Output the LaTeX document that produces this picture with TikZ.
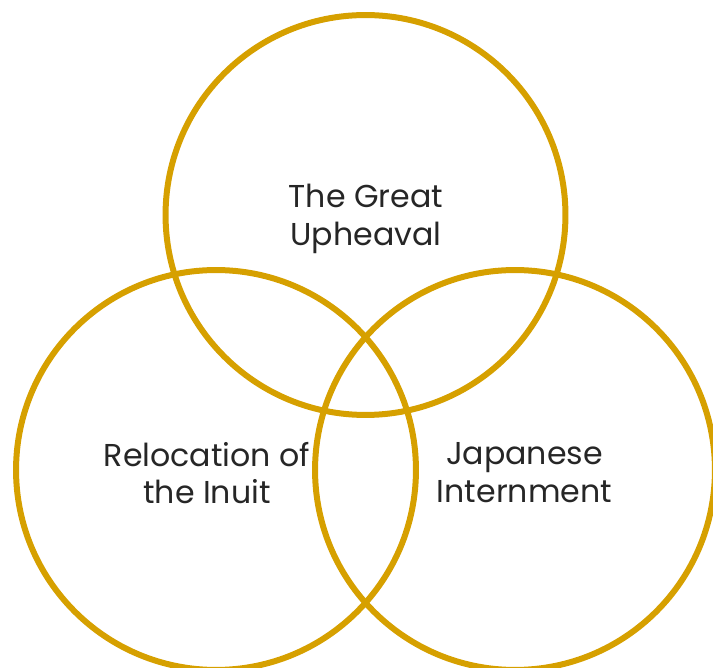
\documentclass[tikz,border=0pt]{standalone}
\usepackage{fontspec}
\setmainfont{Poppins}
\usepackage{xcolor}
\usepackage{tikz}
\usetikzlibrary{positioning}
\definecolor{ringcolor}{RGB}{214, 160, 0}

\begin{document}
\begin{tikzpicture}[
    x=0.02cm, y=-0.02cm,
    ring/.style={circle, draw=ringcolor, line width=0.12cm, minimum size=8cm, inner sep=0pt},
    label/.style={align=center, text=black!85, font=\fontsize{18}{21.5}\selectfont}
]
\useasboundingbox (0,0) rectangle (713,668);
\clip (0,0) rectangle (713,668);

\node[ring] (top) at (365.5,215) {};
\node[ring] (left) at (216,470) {};
\node[ring] (right) at (515,470) {};

\node[label] (toptext) at (366,219) {The Great\\Upheaval};
\node[label] (lefttext) at (207,473) {Relocation of\\the Inuit};
\node[label] (righttext) at (524.5,473) {Japanese\\Internment};

\end{tikzpicture}
\end{document}
